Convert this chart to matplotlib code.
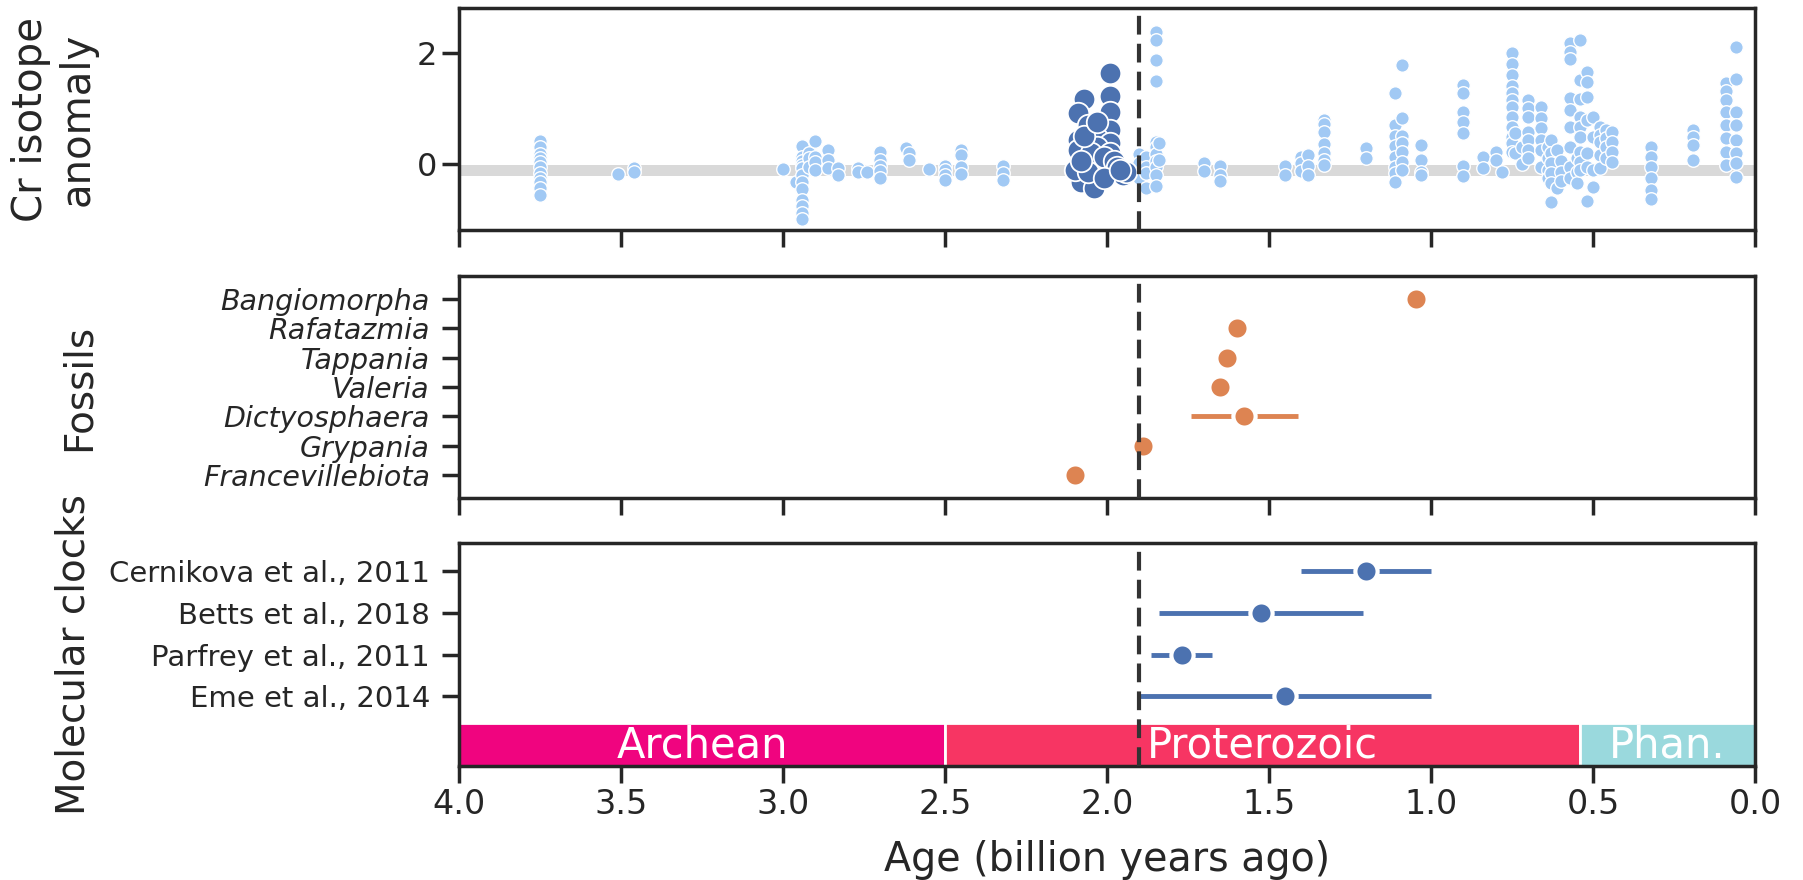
import numpy as np
import matplotlib
matplotlib.use("Agg")
import matplotlib.pyplot as plt
import seaborn as sns

sns.set_theme(style="ticks", context="poster")
plt.rcParams['font.family'] = ['DejaVu Sans']

LIGHT = '#a1c9f4'
DARK = '#4c72b0'
ORANGE = '#dd8452'

# Cr isotope record, background samples (age in Ga, anomaly)
cr_age = [3.75]*11 + [3.51] + [3.46]*2 + [3.00] + [2.96] + [2.94]*12 + [2.92]*3 + [2.90]*4 \
    + [2.86]*3 + [2.83]*2 + [2.77]*2 + [2.74] + [2.70]*5 + [2.62] + [2.61]*2 + [2.55] \
    + [2.50]*4 + [2.45]*4 + [2.32]*3 + [2.10] + [2.07] + [1.90]*4 + [1.88]*4 + [1.85]*11 \
    + [1.84]*2 + [1.70]*2 + [1.65]*3 + [1.45]*2 + [1.40]*3 + [1.38]*3 + [1.33]*7 + [1.20]*2 \
    + [1.11]*8 + [1.09]*7 + [1.03]*4 + [0.90]*7 + [0.84]*2 + [0.80]*2 + [0.78] + [0.75]*12 \
    + [0.74]*2 + [0.72]*2 + [0.70]*7 + [0.66]*6 + [0.64]*4 + [0.63]*6 + [0.61]*2 + [0.60]*3 \
    + [0.57]*9 + [0.55]*3 + [0.54]*9 + [0.52]*7 + [0.50]*4 + [0.48]*5 + [0.46]*4 + [0.44]*4 \
    + [0.32]*6 + [0.19]*4 + [0.09]*8 + [0.06]*8
cr_value = [0.41, 0.31, 0.18, 0.10, 0.03, -0.05, -0.17, -0.25, -0.32, -0.44, -0.56,
            -0.18,
            -0.07, -0.14,
            -0.09,
            -0.32,
            0.32, 0.13, 0.05, -0.02, -0.08, -0.20, -0.33, -0.45, -0.64, -0.75, -0.88, -0.99,
            0.20, 0.10, -0.05,
            0.41, 0.13, 0.03, -0.11,
            0.25, 0.07, -0.08,
            -0.08, -0.20,
            -0.08, -0.14,
            -0.14,
            0.22, 0.07, -0.03, -0.12, -0.25,
            0.29,
            0.20, 0.07,
            -0.09,
            -0.03, -0.11, -0.20, -0.29,
            0.25, 0.16, -0.05, -0.18,
            -0.03, -0.17, -0.29,
            -0.08,
            -0.12,
            0.18, 0.01, -0.17, -0.26,
            0.13, -0.05, -0.17, -0.44,
            2.38, 2.24, 1.87, 1.49, 0.40, 0.30, 0.18, 0.05, -0.06, -0.20, -0.40,
            0.37, 0.07,
            0.02, -0.13,
            -0.04, -0.19, -0.31,
            -0.04, -0.19,
            0.13, 0.02, -0.13,
            0.16, -0.04, -0.19,
            0.79, 0.72, 0.57, 0.36, 0.19, 0.08, -0.02,
            0.28, 0.10,
            1.27, 0.70, 0.50, 0.32, 0.13, -0.05, -0.17, -0.33,
            1.79, 0.82, 0.50, 0.38, 0.22, 0.04, -0.11,
            0.35, 0.07, -0.14, -0.20,
            1.42, 1.27, 0.94, 0.76, 0.55, -0.04, -0.22,
            0.13, -0.08,
            0.22, 0.07,
            -0.14,
            2.00, 1.81, 1.60, 1.40, 1.27, 1.15, 1.03, 0.85, 0.67, 0.49, 0.37, 0.22,
            0.55, 0.19,
            0.30, 0.00,
            1.15, 1.00, 0.85, 0.57, 0.43, 0.25, 0.10,
            1.03, 0.82, 0.64, 0.43, 0.25, -0.05,
            0.30, 0.10, -0.10, -0.25,
            0.43, 0.19, 0.01, -0.17, -0.35, -0.69,
            0.25, -0.44,
            0.05, -0.15, -0.30,
            2.18, 2.02, 1.90, 1.19, 0.97, 0.67, 0.31, -0.05, -0.25,
            0.10, -0.15, -0.35,
            2.23, 1.52, 1.17, 0.85, 0.67, 0.49, 0.22, 0.04, -0.11,
            1.66, 1.48, 1.21, 0.79, 0.19, -0.05, -0.66,
            0.85, 0.49, -0.11, -0.41,
            0.67, 0.52, 0.40, 0.16, -0.08,
            0.61, 0.46, 0.30, 0.10,
            0.58, 0.40, 0.22, 0.04,
            0.31, 0.13, -0.05, -0.25, -0.46, -0.63,
            0.61, 0.49, 0.34, 0.07,
            1.45, 1.31, 1.15, 0.94, 0.70, 0.46, 0.22, -0.02,
            2.11, 1.54, 0.94, 0.70, 0.43, 0.19, 0.01, -0.23]

# Lomagundi-interval samples
lomagundi_age = [1.99, 1.99, 1.99, 2.07, 2.09, 2.06, 1.99, 2.09, 2.03, 1.99, 2.09, 2.03,
                 1.99, 2.05, 1.98, 2.08, 2.04, 1.99, 1.95, 2.10, 2.02, 2.05, 2.01, 2.07,
                 1.98, 1.97, 1.94, 2.03, 2.06, 2.01, 2.08, 1.96]
lomagundi_value = [1.64, 1.23, 0.94, 1.17, 0.92, 0.70, 0.61, 0.43, 0.47, 0.38, 0.25, 0.30,
                   0.20, 0.07, 0.00, -0.32, -0.43, -0.16, -0.20, -0.10, -0.05, 0.19, 0.13, 0.50,
                   0.05, -0.05, -0.15, 0.75, -0.15, -0.25, 0.05, -0.10]

fossil_names = ['Bangiomorpha', 'Rafatazmia', 'Tappania', 'Valeria',
                'Dictyosphaera', 'Grypania', 'Francevillebiota']
fossil_age = [1.047, 1.60, 1.63, 1.65, 1.577, 1.89, 2.10]
fossil_err = [0, 0, 0, 0, 0.165, 0, 0]

clock_names = ['Cernikova et al., 2011', 'Betts et al., 2018',
               'Parfrey et al., 2011', 'Eme et al., 2014']
clock_age = [1.20, 1.525, 1.77, 1.45]
clock_err = [0.20, 0.315, 0.095, 0.45]

eon_names = ['Archean', 'Proterozoic', 'Phan.']
eon_start = [4.0, 2.5, 0.541]
eon_end = [2.5, 0.541, 0.0]
eon_colors = ['#f0047f', '#f73563', '#9ad9dd']

onset = 1.9

fig = plt.figure(figsize=(18.03, 8.8), dpi=100)
ax1 = fig.add_axes([0.2546, 0.7386, 0.7188, 0.2523])
ax2 = fig.add_axes([0.2546, 0.4341, 0.7188, 0.2523], sharex=ax1)
ax3 = fig.add_axes([0.2546, 0.1295, 0.7188, 0.2534], sharex=ax1)

# Cr isotopes
ax1.axhspan(-0.22, -0.02, color='#d9d9d9', lw=0, zorder=0)
ax1.scatter(cr_age, cr_value, s=95, c=LIGHT, edgecolor='white', linewidth=1, zorder=2)
ax1.scatter(lomagundi_age, lomagundi_value, s=240, c=DARK, edgecolor='white',
            linewidth=1.3, zorder=3)
ax1.set_ylim(-1.19, 2.81)
ax1.set_yticks([0, 2])
ax1.set_ylabel('Cr isotope\nanomaly', fontsize=29)
ax1.yaxis.set_label_coords(-0.279, 0.5)

# fossils
fossil_pos = np.arange(len(fossil_names))[::-1]
ax2.errorbar(fossil_age, fossil_pos, xerr=fossil_err, fmt='o', color=ORANGE, ms=16,
             mec='white', mew=3, elinewidth=3.5, capsize=0, zorder=3)
ax2.set_yticks(fossil_pos)
ax2.set_yticklabels(fossil_names, fontsize=20.5, style='italic')
ax2.set_ylim(-0.78, 6.78)
ax2.set_ylabel('Fossils', fontsize=28)
ax2.yaxis.set_label_coords(-0.279, 0.5)

# molecular clocks and eons
clock_pos = np.arange(len(clock_names))[::-1]
ax3.errorbar(clock_age, clock_pos, xerr=clock_err, fmt='o', color=DARK, ms=16,
             mec='white', mew=3, elinewidth=3.5, capsize=0, zorder=3)
ax3.set_yticks(clock_pos)
ax3.set_yticklabels(clock_names, fontsize=21)
ax3.set_ylim(-1.67, 3.67)
for name, a, b, col in zip(eon_names, eon_start, eon_end, eon_colors):
    ax3.barh(-1.155, a - b, left=b, height=1.03, color=col, edgecolor='white', lw=2, zorder=1)
    ax3.text((a + b) / 2, -1.17, name, color='white', ha='center', va='center',
             fontsize=30, zorder=4)
ax3.set_ylabel('Molecular clocks', fontsize=28)
ax3.yaxis.set_label_coords(-0.283, 0.5)

for ax in (ax1, ax2, ax3):
    ax.axvline(onset, color='.2', lw=3, ls=(0, (4.5, 2.2)), zorder=5)
    for s in ax.spines.values():
        s.set_visible(True)
        s.set_linewidth(2.5)
        s.set_color('.15')
    ax.tick_params(axis='x', length=12, width=2.5)
ax1.tick_params(axis='y', length=12, width=2.5)
ax2.tick_params(axis='y', length=12, width=2.5, pad=9)
ax3.tick_params(axis='y', length=12, width=2.5, pad=9)

ax1.set_xlim(4.0, 0.0)
ax1.set_xticks(np.arange(0, 4.01, 0.5))
ax1.tick_params(labelbottom=False)
ax2.tick_params(labelbottom=False)
ax1.tick_params(axis='y', labelsize=23)
ax3.set_xticklabels(['%.1f' % t for t in np.arange(0, 4.01, 0.5)], fontsize=24)
ax3.set_xlabel('Age (billion years ago)', fontsize=28.5, labelpad=14)

fig.savefig('out.png', dpi=100)
